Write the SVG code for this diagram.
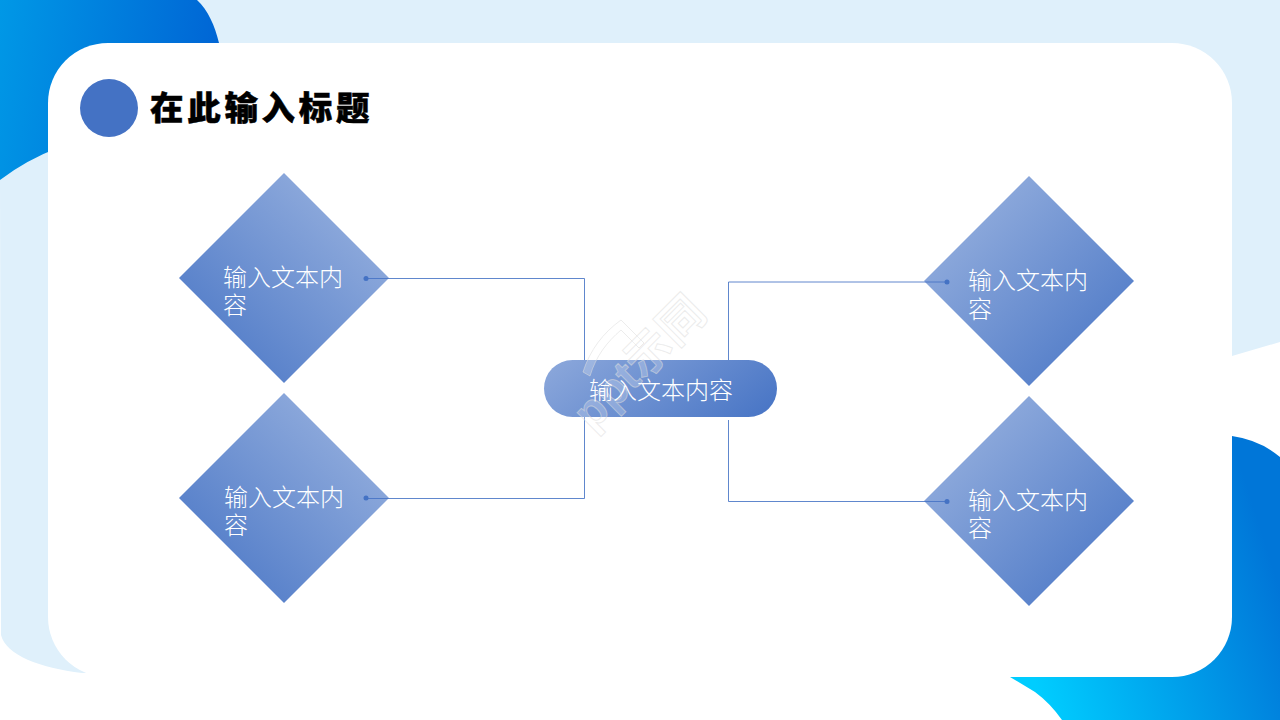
<svg xmlns="http://www.w3.org/2000/svg" width="1280" height="720" viewBox="0 0 1280 720">
<style>
.t{font-family:"Noto Sans CJK SC","Liberation Serif",serif;font-size:24px;font-weight:300;fill:#fff}
.c{fill:none;stroke:#4472c4;stroke-width:1;opacity:.85}
.d{fill:#4472c4}
.w{fill:#fff;fill-opacity:.22;stroke:#dcdcdc;stroke-opacity:.55;stroke-width:1}
</style>
<defs>
<linearGradient id="tl" x1="0" y1="0" x2="1" y2="0.12"><stop offset="0" stop-color="#0098e6"/><stop offset="1" stop-color="#0066d5"/></linearGradient>
<linearGradient id="br" gradientUnits="userSpaceOnUse" x1="1040" y1="700" x2="1290" y2="620"><stop offset="0" stop-color="#00cdff"/><stop offset="1" stop-color="#0076d8"/></linearGradient>
<linearGradient id="dl" x1="1" y1="0" x2="0" y2="1"><stop offset=".25" stop-color="#89a6da"/><stop offset="1" stop-color="#4472c4"/></linearGradient>
<linearGradient id="dr" x1="0" y1="0" x2="1" y2="1"><stop offset=".25" stop-color="#89a6da"/><stop offset="1" stop-color="#4472c4"/></linearGradient>
<linearGradient id="pill" gradientUnits="userSpaceOnUse" x1="600" y1="310" x2="722" y2="466"><stop offset="0" stop-color="#8faadc"/><stop offset="1" stop-color="#4472c4"/></linearGradient>
</defs>
<g id="background">
<rect width="1280" height="720" fill="#fff"/>
<path d="M195 0H1280V342L1232 356V300H110V673H82C40 668 6 655 1 635L0 180V100H195Z" fill="#dff0fb"/>
<path d="M0 0H197C208 10 215 26 219 43V110H60V147Q26 160 0 180Z" fill="url(#tl)"/>
<path d="M1232 436Q1260 440 1280 457V720H1062Q1050 703 1035 692L1010 677H1172V617H1232Z" fill="url(#br)"/>
<rect x="48" y="43" width="1184" height="634" rx="60" fill="#fff"/>
</g>
<g id="title">
<circle cx="109" cy="108" r="29" fill="#4472c4"/>
<text x="150" y="120" font-family="'Noto Sans CJK SC','Liberation Serif',serif" font-size="33.500" font-weight="900" fill="#000" stroke="#000" stroke-width=".5" letter-spacing="3.700">在此输入标题</text>
</g>
<g id="connectors">
<path class="c" d="M389 278.500H584.500V498.500H389"/>
<path class="c" d="M924 282H728.500V360M728.500 420V501.500H924"/>
</g>
<g id="node-left-top">
<path d="M284 173L389 278L284 383L179 278Z" fill="url(#dl)"/>
<path class="c" d="M366 278.500H389"/>
<circle class="d" cx="366" cy="278.500" r="2.500"/>
<text class="t"><tspan x="223" y="286">输入文本内</tspan><tspan x="223" y="314">容</tspan></text>
</g>
<g id="node-left-bottom">
<path d="M284 393L389 498L284 603L179 498Z" fill="url(#dl)"/>
<path class="c" d="M366 498.500H389"/>
<circle class="d" cx="366" cy="498" r="2.500"/>
<text class="t"><tspan x="224" y="506">输入文本内</tspan><tspan x="224" y="534">容</tspan></text>
</g>
<g id="node-right-top">
<path d="M1029 176L1134 281L1029 386L924 281Z" fill="url(#dr)"/>
<path class="c" d="M924 282H947"/>
<circle class="d" cx="947" cy="282" r="2.500"/>
<text class="t"><tspan x="968" y="289">输入文本内</tspan><tspan x="968" y="318">容</tspan></text>
</g>
<g id="node-right-bottom">
<path d="M1029 396L1134 501L1029 606L924 501Z" fill="url(#dr)"/>
<path class="c" d="M924 501.500H947"/>
<circle class="d" cx="947" cy="501.500" r="2.500"/>
<text class="t"><tspan x="968" y="509">输入文本内</tspan><tspan x="968" y="537">容</tspan></text>
</g>
<g id="node-center">
<rect x="544" y="360" width="233" height="57" rx="28.500" fill="url(#pill)"/>
</g>
<g id="watermark">
<path class="w" d="M583 372C590 350 603 333 621 320L644 343L639 348L621 330C607 342 596 356 590 376Z"/>
<text class="w" transform="translate(592 432) rotate(-45)" font-family="'Liberation Sans','Noto Sans CJK SC',sans-serif" font-size="46" font-weight="700" textLength="165">ppt示同</text>
</g>
<text id="center-label" class="t" x="589" y="399">输入文本内容</text>
</svg>
